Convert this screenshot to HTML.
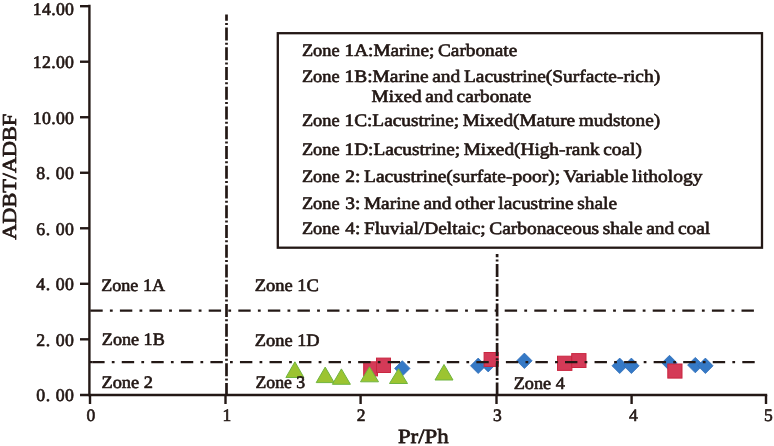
<!DOCTYPE html>
<html><head><meta charset="utf-8"><title>Pr/Ph vs ADBT/ADBF</title>
<style>
html,body{margin:0;padding:0;background:#fff;}
svg{display:block;}
text{font-family:"Liberation Serif","Times New Roman",serif;fill:#231815;stroke:#231815;stroke-width:0.6px;stroke-linejoin:round;text-rendering:geometricPrecision;}
</style></head><body>
<svg width="774" height="446" viewBox="0 0 774 446">
<rect width="774" height="446" fill="#fff"/>

<polygon points="402.3,360.7 410.0,368.4 402.3,376.1 394.6,368.4" fill="#3579c6" stroke="#2f6db9" stroke-width="0.8"/>
<polygon points="478.2,358.1 485.9,365.8 478.2,373.5 470.5,365.8" fill="#3579c6" stroke="#2f6db9" stroke-width="0.8"/>
<polygon points="488.2,356.5 495.9,364.2 488.2,371.9 480.5,364.2" fill="#3579c6" stroke="#2f6db9" stroke-width="0.8"/>
<polygon points="524.4,353.1 532.1,360.8 524.4,368.5 516.7,360.8" fill="#3579c6" stroke="#2f6db9" stroke-width="0.8"/>
<polygon points="619.7,358.1 627.4,365.8 619.7,373.5 612.0,365.8" fill="#3579c6" stroke="#2f6db9" stroke-width="0.8"/>
<polygon points="631.4,358.1 639.1,365.8 631.4,373.5 623.7,365.8" fill="#3579c6" stroke="#2f6db9" stroke-width="0.8"/>
<polygon points="669.5,355.3 677.2,363.0 669.5,370.7 661.8,363.0" fill="#3579c6" stroke="#2f6db9" stroke-width="0.8"/>
<polygon points="695.3,357.4 703.0,365.1 695.3,372.8 687.6,365.1" fill="#3579c6" stroke="#2f6db9" stroke-width="0.8"/>
<polygon points="705.4,358.1 713.1,365.8 705.4,373.5 697.7,365.8" fill="#3579c6" stroke="#2f6db9" stroke-width="0.8"/>
<rect x="363.7" y="361.8" width="13.8" height="14.1" fill="#d43a57" stroke="#c9263f" stroke-width="1"/>
<rect x="376.5" y="358.1" width="14.0" height="14.4" fill="#d43a57" stroke="#c9263f" stroke-width="1"/>
<rect x="484.1" y="352.5" width="14.1" height="13.9" fill="#d43a57" stroke="#c9263f" stroke-width="1"/>
<rect x="557.5" y="356.2" width="14.4" height="14.2" fill="#d43a57" stroke="#c9263f" stroke-width="1"/>
<rect x="571.7" y="353.6" width="14.3" height="13.9" fill="#d43a57" stroke="#c9263f" stroke-width="1"/>
<rect x="667.8" y="364.0" width="14.2" height="14.1" fill="#d43a57" stroke="#c9263f" stroke-width="1"/>
<polygon points="294.9,361.8 285.9,377.5 303.9,377.5" fill="#9cc431" stroke="#6fb43f" stroke-width="1" stroke-linejoin="miter"/>
<polygon points="325.2,367.1 316.2,382.6 334.2,382.6" fill="#9cc431" stroke="#6fb43f" stroke-width="1" stroke-linejoin="miter"/>
<polygon points="341.4,368.9 332.4,384.3 350.4,384.3" fill="#9cc431" stroke="#6fb43f" stroke-width="1" stroke-linejoin="miter"/>
<polygon points="369.5,366.8 360.5,381.8 378.5,381.8" fill="#9cc431" stroke="#6fb43f" stroke-width="1" stroke-linejoin="miter"/>
<polygon points="398.5,368.7 389.5,383.5 407.5,383.5" fill="#9cc431" stroke="#6fb43f" stroke-width="1" stroke-linejoin="miter"/>
<polygon points="444.0,364.5 435.0,380.0 453.0,380.0" fill="#9cc431" stroke="#6fb43f" stroke-width="1" stroke-linejoin="miter"/>
<g stroke="#231815" stroke-width="2.2" fill="none">
<line x1="90.3" y1="310.7" x2="754.5" y2="310.7" stroke-dasharray="12.4 7.2 2.8 7.2"/>
<line x1="90" y1="362.1" x2="92.2" y2="362.1"/>
<line x1="92.2" y1="362.1" x2="754.7" y2="362.1" stroke-dasharray="12.4 7.2 2.75 7.2"/>
</g>
<g stroke="#231815" stroke-width="2.7" fill="none">
<line x1="226.5" y1="14.5" x2="226.5" y2="395" stroke-dasharray="13 2.2 2 2.55" stroke-dashoffset="6.65"/>
<line x1="497.1" y1="254" x2="497.1" y2="395" stroke-dasharray="13 2.2 2 2.55" stroke-dashoffset="9.75"/>
</g>
<g stroke="#231815" stroke-width="2.4" fill="none" stroke-linecap="butt">
<line x1="89.4" y1="4.8" x2="89.4" y2="396.2"/>
<line x1="80" y1="395" x2="767.2" y2="395"/>
<line x1="80" y1="6.20" x2="89.4" y2="6.20"/>
<line x1="80" y1="61.72" x2="89.4" y2="61.72"/>
<line x1="80" y1="117.24" x2="89.4" y2="117.24"/>
<line x1="80" y1="172.76" x2="89.4" y2="172.76"/>
<line x1="80" y1="228.28" x2="89.4" y2="228.28"/>
<line x1="80" y1="283.80" x2="89.4" y2="283.80"/>
<line x1="80" y1="339.32" x2="89.4" y2="339.32"/>
<line x1="90.0" y1="395" x2="90.0" y2="404"/>
<line x1="225.5" y1="395" x2="225.5" y2="404"/>
<line x1="360.6" y1="395" x2="360.6" y2="404"/>
<line x1="496.5" y1="395" x2="496.5" y2="404"/>
<line x1="631.6" y1="395" x2="631.6" y2="404"/>
<line x1="766.0" y1="395" x2="766.0" y2="404"/>
</g>
<rect x="277.8" y="33.2" width="484.2" height="214.5" fill="#fff" stroke="#231815" stroke-width="2.3"/>
<text transform="translate(32.80,14.60) scale(1.1125,1.1125)" font-size="16" stroke-width="0.557" letter-spacing="0.258" xml:space="preserve">14.00</text>
<text transform="translate(32.80,68.22) scale(1.1125,1.1125)" font-size="16" stroke-width="0.557" letter-spacing="0.258" xml:space="preserve">12.00</text>
<text transform="translate(32.80,123.74) scale(1.1125,1.1125)" font-size="16" stroke-width="0.557" letter-spacing="0.258" xml:space="preserve">10.00</text>
<text transform="translate(36.30,179.26) scale(1.1125,1.1125)" font-size="16" stroke-width="0.557" letter-spacing="0.472" xml:space="preserve">8. 00</text>
<text transform="translate(36.30,234.78) scale(1.1125,1.1125)" font-size="16" stroke-width="0.557" letter-spacing="0.472" xml:space="preserve">6. 00</text>
<text transform="translate(36.30,290.30) scale(1.1125,1.1125)" font-size="16" stroke-width="0.557" letter-spacing="0.472" xml:space="preserve">4. 00</text>
<text transform="translate(36.30,345.82) scale(1.1125,1.1125)" font-size="16" stroke-width="0.557" letter-spacing="0.472" xml:space="preserve">2. 00</text>
<text transform="translate(36.30,401.34) scale(1.1125,1.1125)" font-size="16" stroke-width="0.557" letter-spacing="0.472" xml:space="preserve">0. 00</text>
<text transform="translate(91.00,421.00) scale(1.0938,1.0938)" font-size="16" stroke-width="0.567" text-anchor="middle" xml:space="preserve">0</text>
<text transform="translate(226.80,421.00) scale(1.0938,1.0938)" font-size="16" stroke-width="0.567" text-anchor="middle" xml:space="preserve">1</text>
<text transform="translate(361.10,421.00) scale(1.0938,1.0938)" font-size="16" stroke-width="0.567" text-anchor="middle" xml:space="preserve">2</text>
<text transform="translate(497.30,421.00) scale(1.0938,1.0938)" font-size="16" stroke-width="0.567" text-anchor="middle" xml:space="preserve">3</text>
<text transform="translate(633.40,421.00) scale(1.0938,1.0938)" font-size="16" stroke-width="0.567" text-anchor="middle" xml:space="preserve">4</text>
<text transform="translate(768.30,421.00) scale(1.0938,1.0938)" font-size="16" stroke-width="0.567" text-anchor="middle" xml:space="preserve">5</text>
<text transform="translate(101.20,290.80) scale(1.1305,1.0938)" font-size="16" stroke-width="0.558" xml:space="preserve">Zone 1A</text>
<text transform="translate(101.80,345.00) scale(1.1342,1.0938)" font-size="16" stroke-width="0.557" xml:space="preserve">Zone 1B</text>
<text transform="translate(101.50,388.20) scale(1.1454,1.0938)" font-size="16" stroke-width="0.554" xml:space="preserve">Zone 2</text>
<text transform="translate(254.80,291.00) scale(1.1540,1.0938)" font-size="16" stroke-width="0.552" xml:space="preserve">Zone 1C</text>
<text transform="translate(254.80,345.50) scale(1.1482,1.0938)" font-size="16" stroke-width="0.553" xml:space="preserve">Zone 1D</text>
<text transform="translate(255.50,388.00) scale(1.1075,1.0938)" font-size="16" stroke-width="0.563" xml:space="preserve">Zone 3</text>
<text transform="translate(513.70,388.50) scale(1.1409,1.0938)" font-size="16" stroke-width="0.555" xml:space="preserve">Zone 4</text>
<text transform="translate(301.90,55.50) scale(1.1468,1.0938)" font-size="16" stroke-width="0.554" xml:space="preserve">Zone</text>
<text transform="translate(344.50,55.50) scale(1.2043,1.0938)" font-size="16" stroke-width="0.540" word-spacing="-1.0" xml:space="preserve">1A:Marine; Carbonate</text>
<text transform="translate(301.90,82.40) scale(1.1468,1.0938)" font-size="16" stroke-width="0.554" xml:space="preserve">Zone</text>
<text transform="translate(344.50,82.40) scale(1.2133,1.0938)" font-size="16" stroke-width="0.538" word-spacing="-1.0" xml:space="preserve">1B:Marine and Lacustrine(Surfacte-rich)</text>
<text transform="translate(371.60,101.70) scale(1.1994,1.0938)" font-size="16" stroke-width="0.541" word-spacing="-1.0" xml:space="preserve">Mixed and carbonate</text>
<text transform="translate(301.90,126.30) scale(1.1468,1.0938)" font-size="16" stroke-width="0.554" xml:space="preserve">Zone</text>
<text transform="translate(344.50,126.30) scale(1.2049,1.0938)" font-size="16" stroke-width="0.540" word-spacing="-1.0" xml:space="preserve">1C:Lacustrine; Mixed(Mature mudstone)</text>
<text transform="translate(301.90,154.50) scale(1.1468,1.0938)" font-size="16" stroke-width="0.554" xml:space="preserve">Zone</text>
<text transform="translate(344.50,154.50) scale(1.2046,1.0938)" font-size="16" stroke-width="0.540" word-spacing="-1.0" xml:space="preserve">1D:Lacustrine; Mixed(High-rank coal)</text>
<text transform="translate(301.90,182.10) scale(1.1468,1.0938)" font-size="16" stroke-width="0.554" xml:space="preserve">Zone</text>
<text transform="translate(345.20,182.10) scale(1.2192,1.0938)" font-size="16" stroke-width="0.537" word-spacing="-1.0" xml:space="preserve">2: Lacustrine(surfate-poor); Variable lithology</text>
<text transform="translate(301.90,209.20) scale(1.1468,1.0938)" font-size="16" stroke-width="0.554" xml:space="preserve">Zone</text>
<text transform="translate(345.20,209.20) scale(1.2096,1.0938)" font-size="16" stroke-width="0.539" word-spacing="-1.0" xml:space="preserve">3: Marine and other lacustrine shale</text>
<text transform="translate(301.90,234.10) scale(1.1468,1.0938)" font-size="16" stroke-width="0.554" xml:space="preserve">Zone</text>
<text transform="translate(345.20,234.10) scale(1.2121,1.0938)" font-size="16" stroke-width="0.538" word-spacing="-1.0" xml:space="preserve">4: Fluvial/Deltaic; Carbonaceous shale and coal</text>
<text transform="translate(397.90,443.20) scale(1.4278,1.2625)" font-size="16" stroke-width="0.223" xml:space="preserve">Pr/Ph</text>
<text transform="translate(16.3,239.7) rotate(-90) scale(1.3894,1.2405)" font-size="16" stroke-width="0.22">ADBT/ADBF</text>
</svg></body></html>
